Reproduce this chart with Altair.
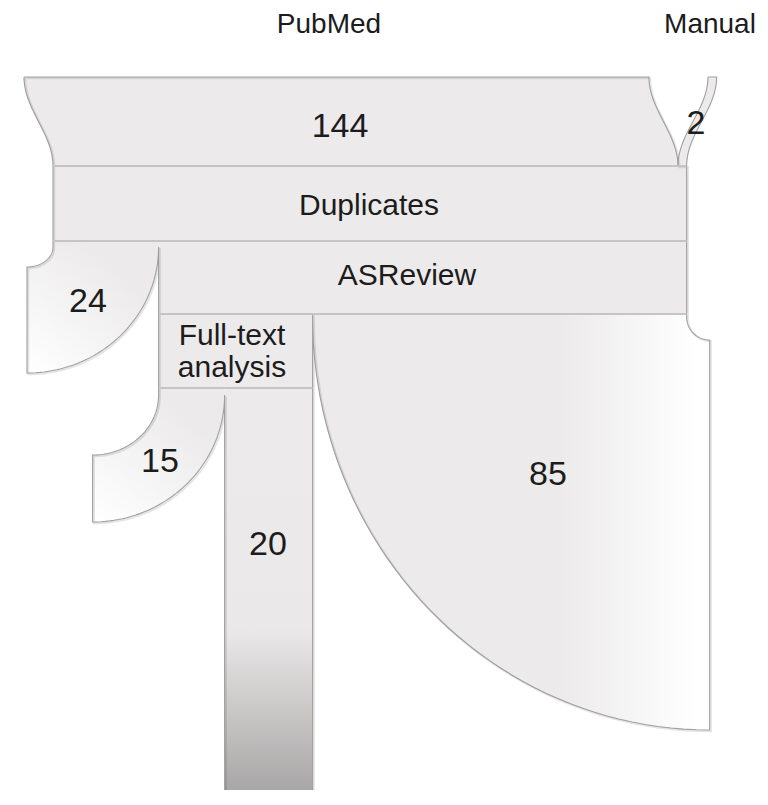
import math
import altair as alt
import pandas as pd

# ---------------- data ----------------
source_names = ["PubMed", "Manual"]
source_values = [144, 2]
stage_names = ["Duplicates", "ASReview", "Full-text", "analysis"]
asreview_out_values = [24, 85]          # left exclusion, right exclusion
fulltext_out_values = [15, 20]          # left exclusion, included (down)

# ---------------- layout (pixel-like units) ----------------
W, H = 752, 782
S = 4.34                 # px per record for incoming flows
X0 = 53                  # trunk left edge
Y_TOP, Y_DUP, Y_ASR, Y_OUT, Y_FT, Y_END = 77, 166, 241, 314, 388, 792
SHIFT_L, SHIFT_R = -29, 30
FILL = "#ECEAEB"
EDGE = "#9f9f9f"
SEP = "#c6c4c5"

trunk_w = sum(source_values) * S
XR = X0 + trunk_w
n_out = asreview_out_values[0] + sum(fulltext_out_values) + asreview_out_values[1]
S_OUT = trunk_w / n_out
x24r = X0 + asreview_out_values[0] * S_OUT
xftr = x24r + sum(fulltext_out_values) * S_OUT
x15r = x24r + fulltext_out_values[0] * S_OUT
x144r = X0 + source_values[0] * S


def arc(cx, cy, rx, ry, a0, a1, n=48):
    pts = []
    for i in range(n + 1):
        a = math.radians(a0 + (a1 - a0) * i / n)
        pts.append((cx + rx * math.cos(a), cy + ry * math.sin(a)))
    return pts


def s_curve(x_bottom, shift, top_to_bottom=True, n=40):
    pts = []
    for i in range(n + 1):
        t = i / n
        pts.append((x_bottom + shift * (1 + math.cos(math.pi * t)) / 2,
                    Y_TOP + t * (Y_DUP - Y_TOP)))
    return pts if top_to_bottom else pts[::-1]


# arc geometry for outputs
c24 = (X0 - 26, 247); r24i = (26, 20); r24o = (26 + (x24r - X0), 126)
c15 = (x24r - 66, 395); r15i = (66, 60); r15o = (66 + (x15r - x24r), 127)
c85 = (XR + 23, 317); r85i = (23, 23); r85o = (23 + (XR - xftr), 413)

shapes = {}
shapes["p144"] = ([(X0 + SHIFT_L, Y_TOP)] + s_curve(x144r, SHIFT_L)
                  + s_curve(X0, SHIFT_L, False))
shapes["p2"] = (s_curve(x144r, SHIFT_R) + s_curve(XR, SHIFT_R, False))
shapes["trunk1"] = [(X0, Y_DUP), (XR, Y_DUP), (XR, 247), (X0, 247)]
shapes["trunk2"] = [(x24r, 246), (XR, 246), (XR, Y_OUT), (x24r, Y_OUT)]
shapes["ft"] = [(x24r, Y_OUT - 1), (xftr, Y_OUT - 1), (xftr, Y_FT), (x24r, Y_FT)]
shapes["o24"] = ([(X0, 245)] + arc(c24[0], c24[1], r24i[0], r24i[1], 0, 90)
                 + arc(c24[0], c24[1], r24o[0], r24o[1], 90, 0))
shapes["o15"] = ([(x24r, Y_FT - 1)] + arc(c15[0], c15[1], r15i[0], r15i[1], 0, 90)
                 + arc(c15[0], c15[1], r15o[0], r15o[1], 90, 0) + [(x15r, Y_FT - 1)])
shapes["o20"] = [(x15r, Y_FT - 1), (xftr, Y_FT - 1), (xftr, Y_END), (x15r, Y_END)]
shapes["o85"] = ([(xftr, Y_OUT - 1), (XR, Y_OUT - 1)]
                 + arc(c85[0], c85[1], r85i[0], r85i[1], 180, 90)
                 + arc(c85[0], c85[1], r85o[0], r85o[1], 90, 180))

grad_85 = alt.LinearGradient(gradient="linear", x1=0, y1=0, x2=1, y2=0, stops=[
    alt.GradientStop(offset=0, color=FILL), alt.GradientStop(offset=0.62, color=FILL),
    alt.GradientStop(offset=0.97, color="#ffffff"), alt.GradientStop(offset=1, color="#ffffff")])
grad_side = alt.LinearGradient(gradient="linear", x1=0, y1=1, x2=0.7, y2=0.2, stops=[
    alt.GradientStop(offset=0, color="#ffffff"), alt.GradientStop(offset=1, color=FILL)])
grad_20 = alt.LinearGradient(gradient="linear", x1=0, y1=0, x2=0, y2=1, stops=[
    alt.GradientStop(offset=0, color=FILL), alt.GradientStop(offset=0.6, color="#EAE8E9"),
    alt.GradientStop(offset=0.78, color="#cdcaca"), alt.GradientStop(offset=1, color="#a7a5a5")])

fills = {"p144": FILL, "p2": FILL, "trunk1": FILL, "trunk2": FILL, "ft": FILL,
         "o24": grad_side, "o15": grad_side, "o20": grad_20, "o85": grad_85}

xs = alt.Scale(domain=[8, 8 + W], nice=False, zero=False)
ys = alt.Scale(domain=[8, 8 + H], nice=False, zero=False, reverse=True)


def poly_df(pts, close=True):
    if close:
        pts = list(pts) + [pts[0]]
    return pd.DataFrame({"x": [p[0] for p in pts], "y": [p[1] for p in pts],
                         "o": list(range(len(pts)))})


def enc(ch):
    return ch.encode(x=alt.X("x:Q", scale=xs, axis=None),
                     y=alt.Y("y:Q", scale=ys, axis=None),
                     order=alt.Order("o:Q"))


layers = []
for name in ["p144", "p2", "trunk1", "trunk2", "ft", "o24", "o15", "o20", "o85"]:
    layers.append(enc(alt.Chart(poly_df(shapes[name])).mark_line(
        fill=fills[name], strokeWidth=0, interpolate="linear")))

# outlines
main_outline = ([(X0 + SHIFT_L, Y_TOP), (x144r + SHIFT_L, Y_TOP)] + s_curve(x144r, SHIFT_L)
                + [(XR, Y_DUP), (XR, c85[1])]
                + arc(c85[0], c85[1], r85i[0], r85i[1], 180, 90)
                + arc(c85[0], c85[1], r85o[0], r85o[1], 90, 180)
                + [(xftr, Y_OUT), (xftr, Y_END), (x15r, Y_END), (x15r, c15[1])]
                + arc(c15[0], c15[1], r15o[0], r15o[1], 0, 90)
                + arc(c15[0], c15[1], r15i[0], r15i[1], 90, 0)
                + [(x24r, c24[1])]
                + arc(c24[0], c24[1], r24o[0], r24o[1], 0, 90)
                + arc(c24[0], c24[1], r24i[0], r24i[1], 90, 0)
                + [(X0, Y_DUP)] + s_curve(X0, SHIFT_L, False))
# soft shadow then edge
layers.append(enc(alt.Chart(poly_df([(x + 1.2, y + 1.2) for x, y in main_outline], False))
                  .mark_line(stroke="#000000", strokeOpacity=0.10, strokeWidth=2.2,
                             interpolate="linear")))
layers.append(enc(alt.Chart(poly_df(main_outline, False)).mark_line(
    stroke=EDGE, strokeWidth=1.1, interpolate="linear")))
layers.append(enc(alt.Chart(poly_df(shapes["p2"])).mark_line(
    stroke=EDGE, strokeWidth=1.1, interpolate="linear")))

# separators
sep_rows = [(X0, XR, Y_DUP), (X0, XR, Y_ASR), (x24r, XR, Y_OUT), (x24r, xftr, Y_FT)]
sep_df = pd.DataFrame({"x": [r[0] for r in sep_rows], "x2": [r[1] for r in sep_rows],
                       "y": [r[2] for r in sep_rows]})
layers.append(alt.Chart(sep_df).mark_rule(stroke=SEP, strokeWidth=1.8).encode(
    x=alt.X("x:Q", scale=xs, axis=None), x2="x2:Q", y=alt.Y("y:Q", scale=ys, axis=None)))

# text labels
label_text = [source_names[0], source_names[1], str(source_values[0]), str(source_values[1]),
              stage_names[0], stage_names[1], stage_names[2], stage_names[3],
              str(asreview_out_values[0]), str(fulltext_out_values[0]),
              str(fulltext_out_values[1]), str(asreview_out_values[1])]
label_pos = [(329, 33), (710, 33), (340, 137), (696, 134), (369, 215), (407, 285),
             (232, 345), (232, 377), (88, 312), (160, 472), (268, 555), (548, 485)]
label_size = [28, 28, 34, 34, 30, 30, 30, 30, 34, 34, 34, 34]
txt_df = pd.DataFrame({"t": label_text, "x": [p[0] for p in label_pos],
                       "y": [p[1] for p in label_pos], "s": label_size})
for size in sorted(set(label_size)):
    layers.append(alt.Chart(txt_df[txt_df.s == size]).mark_text(
        font="Liberation Sans", fontSize=size, color="#1c1c1c", align="center",
        baseline="alphabetic").encode(
        x=alt.X("x:Q", scale=xs, axis=None), y=alt.Y("y:Q", scale=ys, axis=None), text="t:N"))

chart = alt.layer(*layers).properties(
    width=W, height=H, padding=0, autosize=alt.AutoSizeParams(type="none")
).configure_view(stroke=None)

chart.save("out.html", embed_options={"renderer": "svg", "actions": False})
